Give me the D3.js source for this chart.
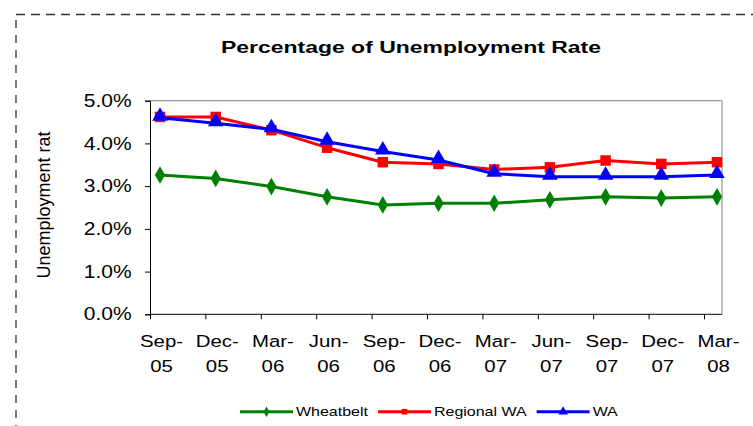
<!DOCTYPE html>
<html>
<head>
<meta charset="utf-8">
<script src="https://d3js.org/d3.v7.min.js"></script>
<style>
  body { margin: 0; background: #fff; }
  svg { display: block; font-family: "Liberation Sans", Arial, sans-serif; }
</style>
</head>
<body>
<svg width="753" height="426"></svg>
<script>
// data
var quarters = ["Sep-05", "Dec-05", "Mar-06", "Jun-06", "Sep-06", "Dec-06", "Mar-07", "Jun-07", "Sep-07", "Dec-07", "Mar-08"];
var wheatbelt = [3.26, 3.18, 2.99, 2.75, 2.56, 2.60, 2.60, 2.68, 2.75, 2.72, 2.75];
var regionalWA = [4.62, 4.62, 4.31, 3.90, 3.56, 3.52, 3.39, 3.44, 3.60, 3.52, 3.56];
var wa = [4.60, 4.47, 4.33, 4.04, 3.81, 3.61, 3.29, 3.22, 3.22, 3.22, 3.26];
var yTicks = [0, 1, 2, 3, 4, 5];

var seriesNames = ["Wheatbelt", "Regional WA", "WA"];
var seriesValues = [wheatbelt, regionalWA, wa];
var colors = ["#008000", "#FF0000", "#0000FF"];
var shapes = [d3.symbolDiamond, d3.symbolSquare, d3.symbolTriangle];

var svg = d3.select("svg");

// plot area
var plotLeft = 150, plotRight = 722, plotTop = 100.7, plotBottom = 314.3;
var stretch = 1.2; // text in the picture is drawn a bit wide

var xScale = d3.scalePoint().domain(quarters).range([160, 717]);
var tickScale = d3.scalePoint().domain(quarters).range([plotLeft, 704]);
var yScale = d3.scaleLinear().domain([0, 5]).range([plotBottom, plotTop]);

function wideText(g, x, y, str, size, sx, anchor, weight) {
  return g.append("text")
    .attr("transform", "translate(" + x + "," + y + ") scale(" + sx + ",1)")
    .attr("text-anchor", anchor || "start")
    .style("font-size", size + "px")
    .style("font-weight", weight || "normal")
    .attr("fill", "#000")
    .text(str);
}

// dashed outline of the chart area
svg.append("path")
  .attr("d", "M16,14.5 H753")
  .attr("stroke", "#333").attr("stroke-width", 1.3)
  .attr("stroke-dasharray", "9,6").attr("fill", "none");
svg.append("path")
  .attr("d", "M16,20 V426")
  .attr("stroke", "#333").attr("stroke-width", 1.3)
  .attr("stroke-dasharray", "8,7").attr("fill", "none");

// title
wideText(svg, 411, 53.3, "Percentage of Unemployment Rate", 17, 1.35, "middle", "bold");

// plot frame (top / right in grey)
svg.append("path")
  .attr("d", "M" + plotLeft + "," + plotTop + " H" + plotRight + " V" + plotBottom)
  .attr("stroke", "#808080").attr("fill", "none");

// y axis
var yAxis = svg.append("g")
  .attr("transform", "translate(" + plotLeft + ",0)")
  .call(d3.axisLeft(yScale).tickValues(yTicks).tickSize(5)
    .tickFormat(function (d) { return d.toFixed(1) + "%"; }));
yAxis.select(".domain").attr("stroke", "#000");
yAxis.selectAll(".tick line").attr("stroke", "#000");
yAxis.selectAll("text")
  .attr("x", -15.3)
  .attr("transform", "scale(" + stretch + ",1)")
  .attr("fill", "#000")
  .style("font-size", "17.5px")
  .style("font-family", "Liberation Sans, Arial, sans-serif");

// x axis line and tick marks
svg.append("line")
  .attr("x1", plotLeft).attr("x2", plotRight)
  .attr("y1", plotBottom).attr("y2", plotBottom)
  .attr("stroke", "#000");
var xAxis = svg.append("g")
  .attr("transform", "translate(0," + plotBottom + ")")
  .call(d3.axisBottom(tickScale).tickSize(5).tickFormat(""));
xAxis.select(".domain").remove();
xAxis.selectAll(".tick line").attr("stroke", "#000");

// x labels on two lines
quarters.forEach(function (q) {
  var parts = q.split("-");
  wideText(svg, xScale(q) + 1.5, 347, parts[0] + "-", 17, stretch, "middle");
  wideText(svg, xScale(q) + 1.5, 372, parts[1], 17, stretch, "middle");
});

// y title
svg.append("text")
  .attr("transform", "translate(50,205) rotate(-90)")
  .attr("text-anchor", "middle")
  .style("font-size", "18px")
  .text("Unemployment rat");

// lines
var line = d3.line()
  .x(function (d, i) { return xScale(quarters[i]); })
  .y(function (d) { return yScale(d); });

seriesValues.forEach(function (vals, s) {
  svg.append("path")
    .datum(vals)
    .attr("d", line)
    .attr("fill", "none")
    .attr("stroke", colors[s])
    .attr("stroke-width", 3)
    .attr("stroke-linejoin", "round");
});

seriesValues.forEach(function (vals, s) {
  var size = s === 0 ? 90 : (s === 1 ? 110 : 105);
  svg.append("g").selectAll("path")
    .data(vals)
    .enter().append("path")
    .attr("transform", function (d, i) {
      var dy = s === 2 ? 1.5 : 0;
      return "translate(" + xScale(quarters[i]) + "," + (yScale(d) - dy) + ")";
    })
    .attr("d", d3.symbol().type(shapes[s]).size(size))
    .attr("fill", colors[s]);
});

// legend
var lx = 240, ly = 411.7;
seriesNames.forEach(function (name, s) {
  svg.append("line")
    .attr("x1", lx).attr("x2", lx + 53)
    .attr("y1", ly).attr("y2", ly)
    .attr("stroke", colors[s]).attr("stroke-width", 3);
  svg.append("path")
    .attr("transform", "translate(" + (lx + 26.5) + "," + ly + ")")
    .attr("d", d3.symbol().type(shapes[s]).size(s === 2 ? 40 : 32))
    .attr("fill", colors[s]);
  var t = wideText(svg, lx + 56, ly + 4.6, name, 13, 1.23, "start");
  lx = lx + 56 + t.node().getComputedTextLength() * 1.23 + 10;
});
</script>
</body>
</html>
